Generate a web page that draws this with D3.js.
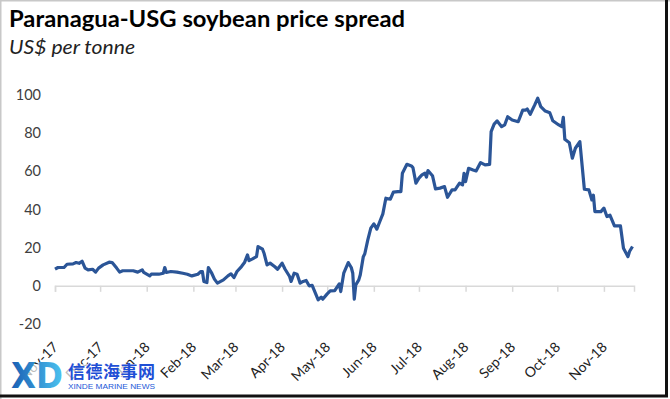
<!DOCTYPE html>
<html>
<head>
<meta charset="utf-8">
<script src="https://cdn.jsdelivr.net/npm/d3@7"></script>
<style>
  body { margin: 0; background: #fff; }
  svg { display: block; }
</style>
</head>
<body>
<script>
// Paranagua minus US Gulf soybean spread
var dates = [
  '2017-11-01','2017-11-03','2017-11-07','2017-11-09','2017-11-13','2017-11-15','2017-11-17','2017-11-19',
  '2017-11-21','2017-11-23','2017-11-26','2017-11-28','2017-11-30','2017-12-03','2017-12-07','2017-12-09',
  '2017-12-12','2017-12-14','2017-12-16','2017-12-23','2017-12-26','2017-12-29','2017-12-30','2018-01-03',
  '2018-01-04','2018-01-09','2018-01-12','2018-01-13','2018-01-14','2018-01-17','2018-01-21','2018-01-25',
  '2018-01-28','2018-01-31','2018-02-04','2018-02-06','2018-02-07','2018-02-08','2018-02-10','2018-02-11',
  '2018-02-13','2018-02-15','2018-02-17','2018-02-21','2018-02-24','2018-02-26','2018-02-28','2018-03-02',
  '2018-03-05','2018-03-07','2018-03-09','2018-03-10','2018-03-12','2018-03-15','2018-03-16','2018-03-19',
  '2018-03-20','2018-03-22','2018-03-24','2018-03-27','2018-03-29','2018-04-01','2018-04-03','2018-04-06',
  '2018-04-07','2018-04-09','2018-04-11','2018-04-13','2018-04-15','2018-04-17','2018-04-19','2018-04-21',
  '2018-04-25','2018-04-27','2018-04-28','2018-05-01','2018-05-03','2018-05-06','2018-05-09','2018-05-10',
  '2018-05-12','2018-05-15','2018-05-17','2018-05-18','2018-05-19','2018-05-20','2018-05-22','2018-05-23',
  '2018-05-25','2018-05-26','2018-05-28','2018-05-30','2018-06-01','2018-06-03','2018-06-05','2018-06-07',
  '2018-06-09','2018-06-12','2018-06-14','2018-06-17','2018-06-19','2018-06-20','2018-06-23','2018-06-26',
  '2018-06-27','2018-06-29','2018-07-01','2018-07-03','2018-07-05','2018-07-06','2018-07-07','2018-07-10',
  '2018-07-12','2018-07-15','2018-07-18','2018-07-20','2018-07-23','2018-07-25','2018-07-28','2018-07-30',
  '2018-07-31','2018-08-01','2018-08-03','2018-08-06','2018-08-08','2018-08-11','2018-08-14','2018-08-17',
  '2018-08-18','2018-08-20','2018-08-22','2018-08-25','2018-08-27','2018-08-29','2018-09-01','2018-09-05',
  '2018-09-08','2018-09-10','2018-09-11','2018-09-13','2018-09-16','2018-09-18','2018-09-20','2018-09-23',
  '2018-09-26','2018-09-28','2018-10-02','2018-10-04','2018-10-05','2018-10-06','2018-10-09','2018-10-11',
  '2018-10-13','2018-10-16','2018-10-19','2018-10-22','2018-10-24','2018-10-25','2018-10-26','2018-10-30',
  '2018-11-01','2018-11-03','2018-11-05','2018-11-08','2018-11-12','2018-11-14','2018-11-17','2018-11-18',
  '2018-11-20'
];
var spread = [
  8.7, 9.6, 9.6, 11.3, 11.5, 12.2, 11.8, 12.9,
  9.3, 8.4, 8.7, 7.2, 9.3, 11, 12.4, 12.2,
  9.3, 7.2, 7.9, 7.9, 7.2, 8.4, 7, 5.2,
  6.1, 6.1, 6.6, 9.6, 7, 7.5, 7.2, 6.6,
  6.1, 5.2, 6.1, 7.5, 7.5, 2.3, 1.7, 9.6,
  7, 3.5, 1.4, 3.1, 5.2, 6.3, 4.3, 7.5,
  10.1, 12.2, 16.2, 13.2, 14, 15.3, 20.6, 19.2,
  17.1, 11, 11.9, 10.1, 8.7, 11.9, 8.7, 4.9,
  2.3, 6.6, 6.1, 1.4, 2.3, 2.8, 0, 0.2,
  -7.3, -5.9, -7, -4.2, -2.6, -2.5, 1, -3,
  6.6, 12.2, 9.6, 6.6, -7, 0.5, 3.1, 5.8,
  15.3, 16.8, 24.1, 30.2, 32.5, 29.7, 33.7, 37.7,
  45.9, 45.4, 49.1, 49.4, 49.4, 59, 63.7, 62.8,
  62, 53.8, 56.4, 58.1, 59, 57, 60.4, 57.7,
  50.8, 51.2, 52, 46.4, 50.3, 50.3, 53.8, 52.9,
  59, 54.6, 61.6, 60.7, 60.2, 64.6, 63.4, 63.6,
  80.8, 84.7, 86.4, 83.4, 84.3, 88.6, 86.9, 86,
  92.1, 92.1, 92.7, 89.9, 94.8, 98.3, 93.9, 91.6,
  90.7, 86.5, 84.3, 83.4, 88.3, 76.8, 75, 66.9,
  72.1, 75.6, 50.6, 50.3, 45, 47.5, 38.9, 38.9,
  40.7, 36.3, 37, 31.4, 31.4, 19.7, 15.3, 18,
  20.6
];
var yTicks = [-20, 0, 20, 40, 60, 80, 100];
var monthTicks = ['2017-11-01','2017-12-01','2018-01-01','2018-02-01','2018-03-01','2018-04-01',
  '2018-05-01','2018-06-01','2018-07-01','2018-08-01','2018-09-01','2018-10-01','2018-11-01'];

var parse = d3.timeParse('%Y-%m-%d');
var data = dates.map(function(d, i) { return {date: parse(d), value: spread[i]}; });

var width = 670, height = 399;
var svg = d3.select('body').append('svg')
  .attr('width', width)
  .attr('height', height);

svg.append('rect')
  .attr('width', width).attr('height', height)
  .attr('fill', '#fff');

var x = d3.scaleTime()
  .domain([parse('2017-11-01'), parse('2018-11-21')])
  .range([55, 634]);
var y = d3.scaleLinear()
  .domain([-20, 100])
  .range([324, 95]);

var font = 'Lato, "Open Sans", sans-serif';

// title
svg.append('text')
  .attr('x', 9).attr('y', 27)
  .attr('font-family', font)
  .attr('font-weight', 'bold')
  .attr('font-size', 22)
  .attr('fill', '#000')
  .attr('textLength', 396)
  .attr('lengthAdjust', 'spacingAndGlyphs')
  .text('Paranagua-USG soybean price spread');

svg.append('text')
  .attr('x', 9).attr('y', 54)
  .attr('font-family', font)
  .attr('font-style', 'italic')
  .attr('font-size', 19)
  .attr('fill', '#222')
  .attr('textLength', 126)
  .attr('lengthAdjust', 'spacingAndGlyphs')
  .text('US$ per tonne');

// y axis labels only
svg.append('g').selectAll('text')
  .data(yTicks)
  .enter()
  .append('text')
  .attr('x', 41)
  .attr('y', function(d) { return y(d); })
  .attr('dy', '0.35em')
  .attr('text-anchor', 'end')
  .attr('font-family', font)
  .attr('font-size', 14.5)
  .attr('fill', '#404040')
  .text(function(d) { return d; });

// x axis at zero
var xAxis = d3.axisBottom(x)
  .tickValues(monthTicks.map(parse))
  .tickSize(6)
  .tickFormat('');
var gx = svg.append('g')
  .attr('transform', 'translate(0,' + y(0) + ')')
  .call(xAxis);
gx.select('.domain').attr('stroke', '#d9d9d9').attr('stroke-width', 1.5);
gx.selectAll('.tick line').attr('stroke', '#d9d9d9').attr('stroke-width', 1.5);

var fmt = d3.timeFormat('%b-%y');
svg.append('g').selectAll('text')
  .data(monthTicks.map(parse))
  .enter()
  .append('text')
  .attr('transform', function(d) { return 'translate(' + (x(d) + 4) + ',348) rotate(-45)'; })
  .attr('text-anchor', 'end')
  .attr('font-family', font)
  .attr('font-size', 14)
  .attr('fill', '#222')
  .text(fmt);

// the line
var line = d3.line()
  .x(function(d) { return x(d.date); })
  .y(function(d) { return y(d.value); });

svg.append('path')
  .datum(data)
  .attr('d', line)
  .attr('fill', 'none')
  .attr('stroke', '#2b5597')
  .attr('stroke-width', 3.2)
  .attr('stroke-linejoin', 'round');

// watermark
var wm = svg.append('g');
var grad = svg.append('defs').append('linearGradient')
  .attr('id', 'xdg').attr('x1', 0).attr('x2', 1).attr('y1', 0).attr('y2', 0);
grad.append('stop').attr('offset', '0%').attr('stop-color', '#1a5fb4');
grad.append('stop').attr('offset', '100%').attr('stop-color', '#4cc3f0');
wm.append('rect')
  .attr('x', 10).attr('y', 364).attr('width', 150).attr('height', 28)
  .attr('fill', '#fff').attr('opacity', 0.7);
wm.append('text')
  .attr('x', 11).attr('y', 388)
  .attr('font-family', '"DejaVu Sans", sans-serif')
  .attr('font-weight', 'bold')
  .attr('font-size', 36)
  .attr('fill', 'url(#xdg)')
  .attr('textLength', 52)
  .attr('lengthAdjust', 'spacingAndGlyphs')
  .text('XD');
wm.append('text')
  .attr('x', 68).attr('y', 378)
  .attr('font-family', '"Noto Sans CJK SC", sans-serif')
  .attr('font-weight', 'bold')
  .attr('font-size', 17)
  .attr('fill', '#1f4fd6')
  .attr('textLength', 87)
  .text('信德海事网');
wm.append('text')
  .attr('x', 68).attr('y', 389)
  .attr('font-family', '"Liberation Sans", sans-serif')
  .attr('font-size', 8)
  .attr('fill', '#2357d8')
  .attr('textLength', 87)
  .attr('lengthAdjust', 'spacingAndGlyphs')
  .text('XINDE MARINE NEWS');

// frame
svg.append('line').attr('x1', 0).attr('x2', width).attr('y1', 0.5).attr('y2', 0.5)
  .attr('stroke', '#c8c8c8').attr('stroke-width', 2);
svg.append('line').attr('x1', 0.5).attr('x2', 0.5).attr('y1', 0).attr('y2', height)
  .attr('stroke', '#c8c8c8').attr('stroke-width', 2);
svg.append('line').attr('x1', 666.5).attr('x2', 666.5).attr('y1', 0).attr('y2', 397)
  .attr('stroke', '#111').attr('stroke-width', 3);
svg.append('line').attr('x1', 0).attr('x2', 668).attr('y1', 396).attr('y2', 396)
  .attr('stroke', '#111').attr('stroke-width', 3);
</script>
</body>
</html>
